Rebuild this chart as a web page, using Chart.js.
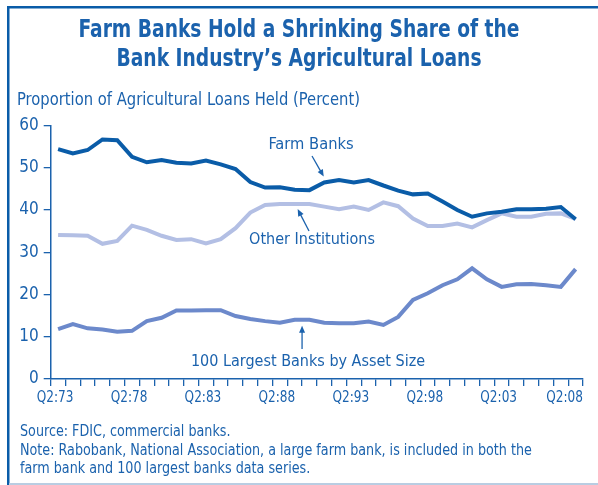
<!DOCTYPE html>
<html>
<head>
<meta charset="utf-8">
<script src="https://cdn.jsdelivr.net/npm/chart.js@4/dist/chart.umd.min.js"></script>
<style>
  body { margin: 0; background: #fff; }
  #wrap { position: absolute; left: 0; top: 0; width: 598px; height: 485px; }
</style>
</head>
<body>
<div id="wrap"><canvas id="chart"></canvas></div>
<script>
// Data (Q2 of each year, percent of agricultural loans held)
const years = [1973, 1974, 1975, 1976, 1977, 1978, 1979, 1980, 1981, 1982, 1983, 1984,
  1985, 1986, 1987, 1988, 1989, 1990, 1991, 1992, 1993, 1994, 1995, 1996,
  1997, 1998, 1999, 2000, 2001, 2002, 2003, 2004, 2005, 2006, 2007, 2008];
const farmBanks = [54.4, 53.4, 54.2, 56.7, 56.5, 52.6, 51.3, 51.8, 51.2, 51.0, 51.7, 50.8,
  49.7, 46.6, 45.3, 45.4, 44.8, 44.7, 46.5, 47.1, 46.5, 47.1, 45.8, 44.6,
  43.7, 43.9, 42.0, 40.0, 38.4, 39.2, 39.6, 40.2, 40.2, 40.3, 40.7, 37.8];
const otherInst = [34.1, 34.0, 33.9, 32.0, 32.7, 36.3, 35.3, 33.9, 32.9, 33.1, 32.1, 33.1,
  35.7, 39.4, 41.2, 41.4, 41.4, 41.4, 40.8, 40.2, 40.8, 40.0, 41.8, 40.9,
  38.0, 36.2, 36.2, 36.8, 35.9, 37.6, 39.2, 38.4, 38.4, 39.1, 39.2, 37.9];
const largest100 = [11.8, 13.0, 12.0, 11.7, 11.2, 11.4, 13.7, 14.5, 16.2, 16.2, 16.3, 16.3,
  14.9, 14.2, 13.7, 13.3, 14.0, 14.0, 13.3, 13.2, 13.2, 13.6, 12.8, 14.7,
  18.7, 20.3, 22.2, 23.6, 26.2, 23.6, 21.8, 22.4, 22.5, 22.2, 21.8, 26.0];
const xTickYears = [1973, 1978, 1983, 1988, 1993, 1998, 2003, 2008];
const yTicks = [0, 10, 20, 30, 40, 50, 60];

const labels = years.map(y => 'Q2:' + String(y).slice(2));

const BLUE = '#1b62ad';
const FONT = '"Liberation Sans Narrow", "DejaVu Sans Condensed", "Roboto Condensed", sans-serif';

// draw text squeezed horizontally (the original uses a condensed face)
function narrowText(ctx, text, x, y, squeeze, align) {
  const w = ctx.measureText(text).width * squeeze;
  let left = x;
  if (align === 'center') left = x - w / 2;
  if (align === 'right') left = x - w;
  ctx.save();
  ctx.textAlign = 'left';
  ctx.translate(left, y);
  ctx.scale(squeeze, 1);
  ctx.fillText(text, 0, 0);
  ctx.restore();
  return w;
}

function arrow(ctx, x1, y1, x2, y2) {
  const a = Math.atan2(y2 - y1, x2 - x1);
  ctx.beginPath();
  ctx.moveTo(x1, y1);
  ctx.lineTo(x2 - 4 * Math.cos(a), y2 - 4 * Math.sin(a));
  ctx.stroke();
  ctx.beginPath();
  ctx.moveTo(x2, y2);
  ctx.lineTo(x2 - 7 * Math.cos(a) + 3 * Math.sin(a), y2 - 7 * Math.sin(a) - 3 * Math.cos(a));
  ctx.lineTo(x2 - 7 * Math.cos(a) - 3 * Math.sin(a), y2 - 7 * Math.sin(a) + 3 * Math.cos(a));
  ctx.closePath();
  ctx.fill();
}

const decorations = {
  id: 'decorations',
  afterDraw(chart) {
    const ctx = chart.ctx;
    const xs = chart.scales.x;
    const ys = chart.scales.y;
    ctx.save();

    // frame
    ctx.fillStyle = '#0a5ca8';
    ctx.fillRect(7, 6, 591, 2.5);
    ctx.fillRect(7, 6, 2.5, 479);
    ctx.fillStyle = '#b9cde2';
    ctx.fillRect(9, 483, 589, 2);

    ctx.fillStyle = BLUE;
    ctx.strokeStyle = BLUE;
    ctx.textBaseline = 'middle';

    // title
    ctx.font = 'bold 24px ' + FONT;
    narrowText(ctx, 'Farm Banks Hold a Shrinking Share of the', 299, 31, 0.865, 'center');
    narrowText(ctx, 'Bank Industry\u2019s Agricultural Loans', 299, 60, 0.865, 'center');

    // y title
    ctx.font = '17px ' + FONT;
    narrowText(ctx, 'Proportion of Agricultural Loans Held (Percent)', 17, 101, 0.965, 'left');

    // x tick labels
    ctx.font = '16px ' + FONT;
    xTickYears.forEach(y => {
      const i = years.indexOf(y);
      let px = xs.getPixelForValue(i) - 3;
      const w = ctx.measureText(labels[i]).width * 0.84;
      if (px + w / 2 > xs.right) px = xs.right - w / 2;
      narrowText(ctx, labels[i], px, 398, 0.84, 'center');
    });

    // series labels
    ctx.font = '16px ' + FONT;
    narrowText(ctx, 'Farm Banks', 311, 145, 1.02, 'center');
    narrowText(ctx, 'Other Institutions', 312, 240, 1.0, 'center');
    narrowText(ctx, '100 Largest Banks by Asset Size', 308, 362, 1.0, 'center');

    ctx.lineWidth = 1.3;
    let i = years.indexOf(1991);
    arrow(ctx, 312, 156, xs.getPixelForValue(i) - 0.5, ys.getPixelForValue(farmBanks[i]) - 6);
    i = years.indexOf(1989);
    arrow(ctx, 309, 231, xs.getPixelForValue(i) + 3, ys.getPixelForValue(otherInst[i]) + 5);
    const mx = (xs.getPixelForValue(i) + xs.getPixelForValue(i + 1)) / 2;
    arrow(ctx, mx, 349, mx, ys.getPixelForValue(largest100[i]) + 6);

    // source and note
    ctx.font = '15px ' + FONT;
    narrowText(ctx, 'Source: FDIC, commercial banks.', 20, 432, 0.945, 'left');
    narrowText(ctx, 'Note: Rabobank, National Association, a large farm bank, is included in both the', 20, 451, 0.945, 'left');
    narrowText(ctx, 'farm bank and 100 largest banks data series.', 20, 469, 0.945, 'left');

    ctx.restore();
  }
};

new Chart(document.getElementById('chart'), {
  type: 'line',
  data: {
    labels: labels,
    datasets: [
      { label: 'Farm Banks', data: farmBanks, borderColor: '#0a5ca8', borderWidth: 4, pointRadius: 0, tension: 0 },
      { label: 'Other Institutions', data: otherInst, borderColor: '#b3bfe4', borderWidth: 4, pointRadius: 0, tension: 0 },
      { label: '100 Largest Banks by Asset Size', data: largest100, borderColor: '#6c89cb', borderWidth: 4, pointRadius: 0, tension: 0 }
    ]
  },
  options: {
    responsive: true,
    maintainAspectRatio: false,
    animation: false,
    layout: { padding: { left: 0, top: 125.5, right: 15, bottom: 76 } },
    plugins: { legend: { display: false }, tooltip: { enabled: false } },
    scales: {
      x: {
        type: 'category',
        offset: true,
        grid: { drawOnChartArea: false, drawTicks: true, tickLength: 7, color: BLUE, lineWidth: 1.3, offset: true },
        border: { color: BLUE, width: 1.5 },
        ticks: { autoSkip: false, maxRotation: 0, callback: () => '' },
        afterFit(scale) { scale.height = 30; }
      },
      y: {
        min: 0,
        max: 60,
        afterBuildTicks(scale) { scale.ticks = yTicks.map(v => ({ value: v })); },
        grid: { drawOnChartArea: false, drawTicks: true, tickLength: 7, color: BLUE, lineWidth: 1.3 },
        border: { color: BLUE, width: 1.5 },
        ticks: { color: BLUE, padding: 5, font: { family: FONT, size: 17 } },
        afterFit(scale) { scale.width = 50.7; }
      }
    }
  },
  plugins: [decorations]
});
</script>
</body>
</html>
